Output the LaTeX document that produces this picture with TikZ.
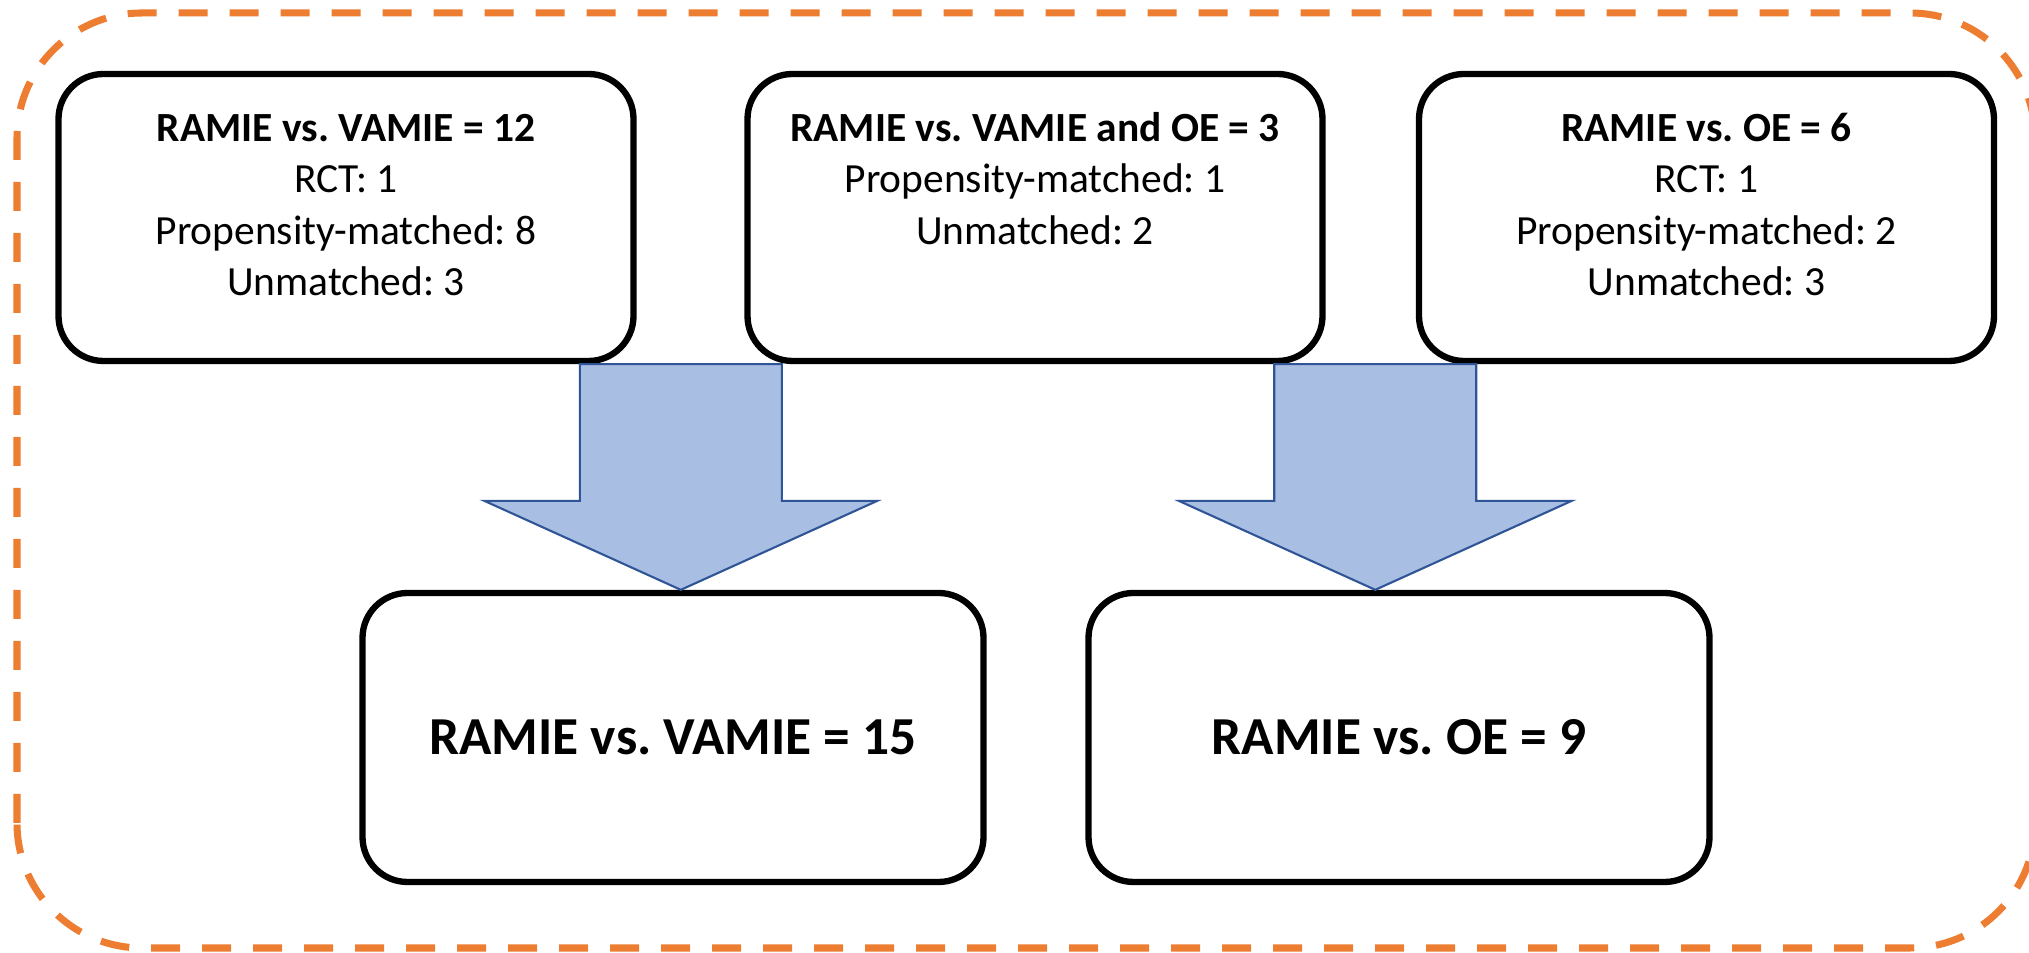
\documentclass[tikz,border=0pt]{standalone}
\usepackage{fontspec}
\setmainfont{Carlito}
\usetikzlibrary{positioning,calc}
\frenchspacing

% block arrow from the top centre #1 down to the tip #2
\newcommand{\fatarrow}[2]{%
	\draw[blockarrow] ($(#1)+(-\shaft,0)$) -- ($(#1)+(\shaft,0)$)
		-- ($(#2)+(\shaft,\headh)$) -- ($(#2)+(\head,\headh)$) -- (#2)
		-- ($(#2)+(-\head,\headh)$) -- ($(#2)+(-\shaft,\headh)$) -- cycle;}

\begin{document}
\begin{tikzpicture}[>=stealth]

	\def\boxw{5.75}
	\def\boxh{2.87}
	\def\sumw{6.21}
	\def\sumh{2.89}
	\def\shaft{1.01}
	\def\head{1.965}
	\def\headh{0.89}

	% Colours
	\definecolor{framecolor}{HTML}{ED7D31}
	\definecolor{arrowfill}{HTML}{A9BEE3}
	\definecolor{arrowline}{HTML}{2F5597}

	% Styles
	\tikzset{
		studybox/.style={draw=black, line width=1.8pt, rounded corners=0.45cm,
			minimum width=\boxw cm, minimum height=\boxh cm},
		studytext/.style={align=center, inner sep=0pt, font=\fontsize{11.8}{14.6}\selectfont},
		sumbox/.style={studybox, minimum width=\sumw cm, minimum height=\sumh cm,
			font=\bfseries\fontsize{15.2}{18}\selectfont},
		blockarrow/.style={fill=arrowfill, draw=arrowline, line width=0.6pt, line join=miter},
		frame/.style={draw=framecolor, line width=2pt, dash pattern=on 0.29cm off 0.22cm,
			rounded corners=1.25cm}
	}

	\useasboundingbox (0,0) rectangle (20.29,9.53);

	% Dashed frame
	\begin{scope}
		\clip (0,0) rectangle (20.29,9.53);
		\draw[frame] (0.17,0.05) rectangle (20.35,9.40);
	\end{scope}

	% Study boxes
	\node[studybox] (vamie) at (3.46,7.355) {};
	\node[studybox] (both) at (10.35,7.355) {};
	\node[studybox] (oe) at (17.065,7.355) {};

	\node[studytext, below=0.34cm of vamie.north] (vamietext)
		{\strut\textbf{RAMIE vs. VAMIE = 12}\\RCT: 1\\Propensity-matched: 8\\Unmatched: 3};
	\node[studytext, below=0.34cm of both.north] (bothtext)
		{\strut\textbf{RAMIE vs. VAMIE and OE = 3}\\Propensity-matched: 1\\Unmatched: 2};
	\node[studytext, below=0.34cm of oe.north] (oetext)
		{\strut\textbf{RAMIE vs. OE = 6}\\RCT: 1\\Propensity-matched: 2\\Unmatched: 3};

	% Pooled boxes
	\node[sumbox] (vamiesum) at (6.73,2.155) {RAMIE vs. VAMIE = 15};
	\node[sumbox] (oesum) at (13.99,2.155) {RAMIE vs. OE = 9};

	% Arrows
	\coordinate (vamiein) at ($(vamie.south east)!0.41!(both.south west)$);
	\coordinate (vamieout) at (vamiein |- vamiesum.north);
	\coordinate (oein) at ($(both.south east)!0.55!(oe.south west)$);
	\coordinate (oeout) at (oein |- oesum.north);
	\fatarrow{vamiein}{vamieout}
	\fatarrow{oein}{oeout}

\end{tikzpicture}
\end{document}
